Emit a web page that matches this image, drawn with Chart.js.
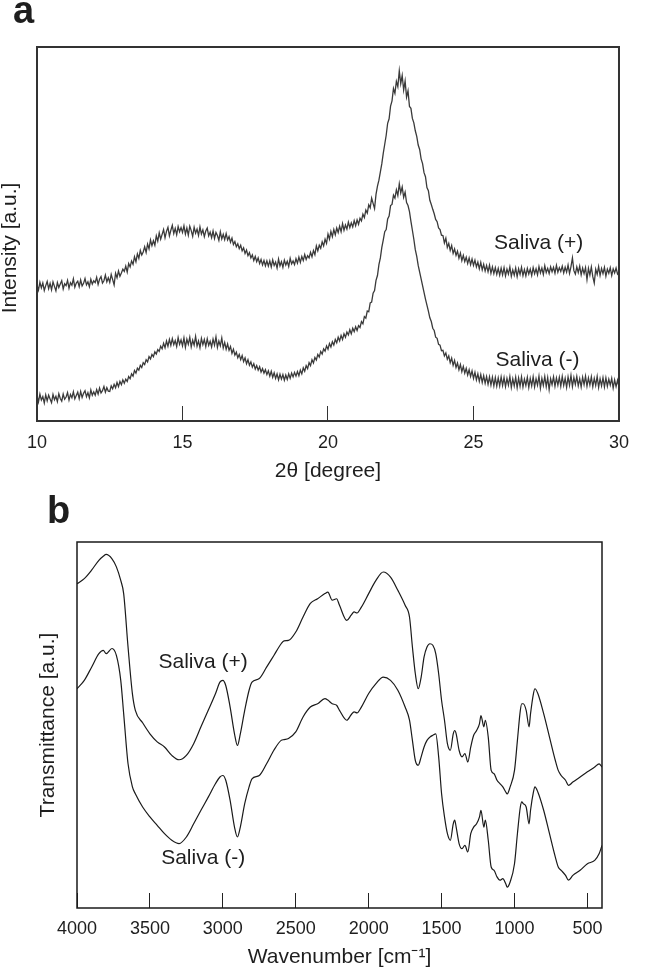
<!DOCTYPE html>
<html><head><meta charset="utf-8">
<script src="https://cdn.jsdelivr.net/npm/chart.js@4"></script>
<style>
html,body{margin:0;padding:0;background:#fff;}
body{width:655px;height:972px;position:relative;overflow:hidden;}
canvas{position:absolute;left:0;}
#ca{top:0;} #cb{top:480px;}
</style></head><body>
<canvas id="ca" width="655" height="492"></canvas>
<canvas id="cb" width="655" height="492"></canvas>
<script>
// ---------- Panel a: XRD ----------
const xrdAngle = Array.from({length:401}, (_, i) => +(10 + i * 0.05).toFixed(2)); // 2θ sampling grid, 0.05° step
const xrdSalivaPlus = [
36.4,35.0,37.1,35.6,36.9,34.9,36.2,37.3,35.4,36.8,35.1,37.2,36.0,34.8,37.0,35.7,36.6,37.5,35.3,36.7,
36.2,37.6,35.5,37.0,36.3,38.0,35.8,36.9,37.4,35.9,37.7,36.1,36.8,38.1,36.4,37.2,35.9,37.9,36.6,37.5,
37.0,38.4,36.5,37.9,38.6,36.9,37.5,39.0,37.2,38.3,37.1,39.2,37.8,36.4,39.5,38.3,40.1,38.7,39.6,40.6,
40.0,41.4,39.8,42.1,41.2,42.8,41.9,43.9,42.6,44.7,43.5,45.6,44.4,45.2,46.6,45.1,47.3,46.0,48.4,46.9,
48.2,47.0,49.5,48.1,50.3,48.6,49.9,51.2,49.0,50.7,51.8,49.5,51.0,52.3,50.1,51.5,49.8,52.0,50.6,51.7,
50.4,52.2,50.0,51.6,49.7,52.1,50.9,49.4,51.8,50.2,51.3,49.6,51.9,50.0,51.1,49.3,50.8,51.6,49.5,50.5,
49.0,50.8,48.8,50.4,49.6,48.3,50.6,48.7,49.9,48.5,50.1,48.4,49.3,47.8,48.9,47.2,48.0,46.6,47.4,46.1,
47.0,45.5,46.3,44.8,45.7,44.2,45.0,43.6,44.4,42.9,44.0,42.6,43.6,42.1,43.2,41.7,42.9,41.5,42.8,41.4,
42.8,41.2,43.1,41.6,42.5,40.9,43.3,41.5,42.6,41.1,43.0,41.7,42.7,41.3,43.5,42.0,42.8,41.8,43.4,42.2,
43.8,42.4,44.0,42.9,44.5,43.2,44.2,43.6,45.1,43.9,45.6,44.5,46.8,45.5,47.0,46.2,47.9,46.8,48.6,47.5,
50.0,48.6,50.7,49.3,51.2,49.8,51.6,50.4,52.1,50.6,52.8,51.0,52.4,51.3,53.2,51.7,53.0,51.9,53.6,52.2,
53.8,52.6,54.2,53.5,55.3,54.4,56.4,55.6,57.8,57.0,59.6,58.2,56.8,60.6,62.8,64.4,66.6,68.8,71.6,74.0,
76.4,79.6,80.8,84.2,85.6,88.9,87.6,90.8,89.4,93.6,90.2,92.4,88.5,90.9,86.6,88.3,84.1,83.6,80.9,79.7,
77.6,76.1,73.8,72.6,70.1,68.8,66.4,65.3,62.4,61.6,59.0,57.9,56.6,55.4,53.9,53.3,51.6,51.2,49.7,49.6,
47.6,48.9,46.4,47.5,45.6,46.9,44.8,46.0,44.3,45.4,43.5,44.9,42.9,44.3,42.6,43.8,42.1,43.6,41.8,43.3,
41.6,43.0,41.2,42.5,40.7,42.4,40.4,41.9,40.1,41.6,39.9,41.7,39.5,41.2,39.4,41.0,39.2,40.8,39.0,40.9,
39.1,41.0,38.8,40.6,39.3,41.2,38.7,40.4,39.0,40.9,38.6,40.7,39.2,41.1,38.9,40.5,38.8,40.8,39.3,40.6,
38.9,41.0,39.4,40.7,39.1,41.3,39.6,40.9,39.2,41.5,39.7,40.8,39.4,41.2,39.9,41.1,39.5,41.6,39.8,41.0,
40.0,41.4,39.6,41.1,39.8,41.7,39.5,41.3,43.6,40.2,39.3,41.2,39.7,41.4,39.1,40.9,39.4,41.0,37.8,40.8,
39.0,41.2,38.6,36.9,40.6,39.2,41.3,38.9,40.8,39.4,41.1,38.7,40.6,39.5,41.0,38.9,40.7,39.6,40.9,39.3,
39.8];
const xrdSalivaMinus = [
6.8,5.1,7.2,5.6,6.5,4.8,7.0,5.4,6.9,5.9,4.9,7.1,5.7,6.6,5.2,7.3,6.0,5.3,7.2,5.8,
6.4,7.6,5.6,7.1,6.2,7.8,5.9,6.8,7.7,6.0,7.9,6.3,7.4,8.1,6.5,7.6,6.2,8.3,6.9,7.8,
6.9,8.4,7.2,8.8,7.5,8.1,9.2,7.7,8.9,8.0,7.9,9.4,8.6,9.8,8.9,10.3,9.2,10.6,9.7,11.0,
10.1,11.2,10.6,11.9,11.3,12.6,12.0,13.5,12.8,14.1,13.6,14.9,14.3,15.6,15.1,16.4,15.8,17.2,16.6,17.8,
17.2,18.5,17.9,19.1,18.6,20.0,19.3,20.8,19.6,21.4,20.0,21.8,20.2,22.0,20.4,21.5,19.9,22.3,20.5,21.7,
20.1,22.2,19.7,21.9,20.5,22.4,19.8,21.6,20.3,22.6,20.0,21.4,19.6,22.1,20.4,21.8,19.9,22.0,20.2,21.3,
19.8,21.9,20.3,22.5,19.7,21.4,20.1,22.2,19.5,21.0,19.2,20.6,18.9,19.9,18.1,19.2,17.6,18.4,16.9,17.8,
16.4,17.5,15.9,16.9,15.3,16.4,14.9,15.8,14.4,15.3,13.9,14.8,13.6,14.5,13.1,14.0,12.8,13.7,12.4,13.4,
12.0,13.3,11.7,12.9,11.4,12.6,11.0,12.5,11.2,12.4,10.9,12.3,11.1,12.6,11.4,12.8,11.8,13.0,12.0,13.2,
12.1,13.6,12.6,14.2,13.3,14.8,14.0,15.6,14.8,16.4,15.5,17.0,16.3,17.8,17.1,18.6,17.9,19.3,18.7,20.1,
19.2,20.7,19.8,21.2,20.3,21.8,20.9,22.4,21.4,22.9,21.8,23.3,22.4,23.8,23.0,24.4,23.3,24.8,23.9,25.2,
24.2,25.5,25.0,26.6,26.0,27.9,27.5,29.4,29.2,31.6,31.8,34.2,34.9,37.6,38.9,41.8,43.6,46.4,48.4,50.6,
51.2,54.0,54.8,57.6,57.9,60.4,59.6,61.8,60.3,63.4,61.0,62.6,59.8,61.2,58.4,57.6,56.0,53.4,51.0,48.6,
45.8,44.0,41.6,39.8,38.0,36.2,34.4,32.6,31.0,29.4,27.6,26.6,24.8,24.2,22.4,22.1,20.5,20.3,18.8,18.9,
17.4,18.2,16.5,17.4,15.6,16.8,14.9,16.2,14.3,15.5,13.7,15.1,13.2,14.6,12.8,14.1,12.3,13.7,11.9,13.4,
11.4,13.0,11.0,12.6,10.6,12.4,10.3,12.1,10.1,11.9,9.8,11.8,9.6,11.7,9.4,11.6,9.3,11.5,9.4,11.8,
9.5,11.6,9.2,11.4,9.6,11.9,9.0,11.3,9.4,11.7,8.9,11.5,9.3,11.8,9.1,11.2,9.5,11.7,9.0,11.4,
9.4,11.8,9.1,11.3,9.6,12.0,8.8,11.4,9.5,11.9,9.2,11.6,8.4,11.3,9.7,11.8,9.3,11.5,9.6,11.7,
9.3,11.9,9.5,11.4,9.0,11.8,9.6,12.2,9.2,11.6,9.8,11.9,9.4,11.3,9.1,11.7,9.7,12.0,9.3,11.5,
9.6,11.8,9.2,11.4,9.5,11.9,9.0,11.3,9.4,11.6,9.1,11.5,9.3,11.2,9.6,11.4,8.8,11.0,9.2,10.9,
9.1];
const xrdTicks = [10, 15, 20, 25, 30];
const xrdLabels = [
  {text: 'Saliva (+)', x: 27.24, y: 47.6},
  {text: 'Saliva (-)', x: 27.2, y: 16.3}
];

// ---------- Panel b: FTIR ----------
const ftirWavenumber = [4000,3950,3900,3850,3820,3800,3760,3730,3700,3680,3650,3620,3600,3550,3500,3450,3400,3350,3300,3250,3200,3150,3100,3050,3020,3000,2980,2950,2920,2900,2880,2850,2820,2800,2750,2700,2650,2600,2580,2550,2500,2450,2400,2350,2300,2280,2250,2220,2200,2150,2120,2100,2080,2050,2000,1950,1900,1850,1800,1750,1720,1700,1680,1660,1640,1620,1600,1580,1560,1540,1520,1500,1480,1460,1440,1420,1410,1400,1380,1360,1340,1320,1300,1280,1260,1240,1230,1210,1200,1180,1160,1140,1120,1100,1080,1060,1050,1030,1000,980,960,950,940,920,900,890,870,860,840,800,760,720,700,680,650,630,600,550,500,450,420,400];
const ftirSalivaPlus = [88.6,90.0,92.3,95.0,96.1,96.6,95.4,93.2,89.5,85.9,71.3,58.5,54.0,50.6,47.6,45.4,44.0,41.7,40.5,41.7,44.9,49.5,54.0,58.6,61.7,62.2,60.8,54.9,47.6,44.4,47.6,54.0,59.5,61.7,62.7,65.8,69.0,72.2,73.0,73.1,75.4,79.5,83.2,84.5,85.9,86.3,84.1,84.5,82.7,78.6,80.0,80.9,80.6,82.2,85.9,89.5,91.8,90.4,86.8,82.7,79.5,71.3,64.0,59.9,63.1,68.6,71.3,72.2,71.8,69.5,64.0,56.7,51.3,44.9,43.1,47.6,48.5,47.6,43.1,41.3,42.2,39.9,44.0,47.2,48.5,50.4,52.6,49.5,51.3,46.7,37.6,36.7,34.9,34.0,33.1,31.7,31.2,33.1,37.6,45.8,54.0,55.8,55.8,54.0,49.5,53.1,58.6,59.9,58.6,53.1,46.7,40.3,37.6,36.2,34.9,33.5,34.4,35.8,37.2,38.5,39.4,38.5];
const ftirSalivaMinus = [59.9,62.2,65.8,69.5,70.4,69.5,70.9,69.0,62.2,53.1,39.4,33.1,31.2,27.6,24.9,22.6,20.3,18.5,17.6,19.4,23.0,26.7,30.3,34.0,35.8,36.2,34.9,29.4,22.1,19.4,22.1,28.5,33.1,35.3,36.2,39.4,43.1,45.8,46.0,46.3,48.1,52.2,54.9,55.8,57.2,56.8,55.8,55.4,54.0,51.3,52.8,53.6,53.3,54.9,58.6,61.3,63.1,62.2,59.5,54.9,51.3,45.8,40.3,39.0,41.3,44.0,45.8,46.7,47.2,47.6,41.3,31.2,24.9,20.3,18.5,23.0,24.0,22.1,17.6,16.2,17.1,15.3,20.3,22.1,23.0,24.9,26.7,22.1,24.0,18.5,11.2,10.3,8.5,7.6,8.0,6.6,5.7,7.1,12.1,20.3,27.6,29.0,28.5,27.6,23.0,26.7,31.7,33.1,31.7,26.7,20.3,13.9,11.2,10.3,8.9,7.6,8.9,10.3,12.1,13.0,14.8,17.1];
const ftirTicks = [4000, 3500, 3000, 2500, 2000, 1500, 1000, 500];
const ftirLabels = [
  {text: 'Saliva (+)', x: 3135, y: 67.2},
  {text: 'Saliva (-)', x: 3135, y: 13.7}
];

const FONT = '"Liberation Sans", Arial, sans-serif';
const TEXT = '#1e1e1e';

const framePlugin = {
  id: 'frame',
  afterDatasetsDraw(chart, args, o) {
    const {ctx, chartArea: a} = chart;
    ctx.save();
    ctx.strokeStyle = o.color; ctx.lineWidth = o.width;
    ctx.strokeRect(a.left, a.top, a.right - a.left, a.bottom - a.top);
    ctx.restore();
  }
};
const textPlugin = {
  id: 'texts',
  afterDraw(chart, args, o) {
    const ctx = chart.ctx, xs = chart.scales.x, ys = chart.scales.y;
    ctx.save();
    ctx.fillStyle = TEXT;
    ctx.font = 'bold 38px ' + FONT;
    ctx.textAlign = 'left'; ctx.textBaseline = 'alphabetic';
    ctx.fillText(o.letter, o.letterX, o.letterY);
    ctx.save();
    ctx.font = '21px ' + FONT;
    ctx.translate(o.yTitleX, o.yTitleY); ctx.rotate(-Math.PI / 2);
    ctx.textAlign = 'center'; ctx.textBaseline = 'middle';
    ctx.fillText(o.yTitle, 0, 0);
    ctx.restore();
    ctx.font = '21px ' + FONT;
    ctx.textAlign = 'center'; ctx.textBaseline = 'middle';
    o.labels.forEach(l => ctx.fillText(l.text, xs.getPixelForValue(l.x), ys.getPixelForValue(l.y)));
    ctx.restore();
  }
};

function makeChart(id, cfg) {
  return new Chart(document.getElementById(id), {
    type: 'line',
    data: {datasets: cfg.datasets},
    options: {
      responsive: false, animation: false, events: [],
      layout: {padding: cfg.padding},
      elements: {point: {radius: 0}, line: {tension: 0}},
      plugins: {legend: {display: false}, tooltip: {enabled: false},
        frame: cfg.frame, texts: cfg.texts},
      scales: {
        x: {
          type: 'linear', min: cfg.xmin, max: cfg.xmax, reverse: cfg.reverse,
          afterBuildTicks: s => { s.ticks = cfg.ticks.map(v => ({value: v})); },
          afterFit: s => { s.height = cfg.xAxisHeight; },
          border: {display: false},
          grid: {display: true, drawOnChartArea: false, drawTicks: true, tickLength: -15, tickWidth: 1, tickColor: cfg.tickColor},
          ticks: {color: TEXT, font: {family: FONT, size: 18}, padding: cfg.tickPad, maxRotation: 0, autoSkip: false,
                  callback: v => String(v)},
          title: {display: true, text: cfg.xTitle, color: TEXT, font: {family: FONT, size: 21}, padding: {top: 0, bottom: cfg.titlePad}}
        },
        y: {type: 'linear', display: false, min: 0, max: 100}
      }
    },
    plugins: [framePlugin, textPlugin]
  });
}

makeChart('ca', {
  datasets: [
    {data: xrdAngle.map((x, i) => ({x, y: xrdSalivaPlus[i]})), borderColor: '#3a3a3a', borderWidth: 1.3},
    {data: xrdAngle.map((x, i) => ({x, y: xrdSalivaMinus[i]})), borderColor: '#3a3a3a', borderWidth: 1.3}
  ],
  padding: {left: 37, right: 16, top: 47, bottom: 0},
  xmin: 10, xmax: 30, reverse: false, ticks: xrdTicks,
  xAxisHeight: 71, tickPad: 26, titlePad: 8, tickColor: '#333',
  xTitle: '2θ [degree]',
  frame: {color: '#333', width: 2},
  texts: {letter: 'a', letterX: 13, letterY: 23, yTitle: 'Intensity [a.u.]', yTitleX: 10, yTitleY: 248, labels: xrdLabels}
});

makeChart('cb', {
  datasets: [
    {data: ftirWavenumber.map((x, i) => ({x, y: ftirSalivaPlus[i]})), borderColor: '#1a1a1a', borderWidth: 1.2, cubicInterpolationMode: 'monotone'},
    {data: ftirWavenumber.map((x, i) => ({x, y: ftirSalivaMinus[i]})), borderColor: '#1a1a1a', borderWidth: 1.2, cubicInterpolationMode: 'monotone'}
  ],
  padding: {left: 77, right: 53, top: 62, bottom: 0},
  xmin: 400, xmax: 4000, reverse: true, ticks: ftirTicks,
  xAxisHeight: 64, tickPad: 25, titlePad: 2, tickColor: '#222',
  xTitle: 'Wavenumber [cm⁻¹]',
  frame: {color: '#1a1a1a', width: 1.5},
  texts: {letter: 'b', letterX: 47, letterY: 43, yTitle: 'Transmittance [a.u.]', yTitleX: 48, yTitleY: 245, labels: ftirLabels}
});
</script>
</body></html>
